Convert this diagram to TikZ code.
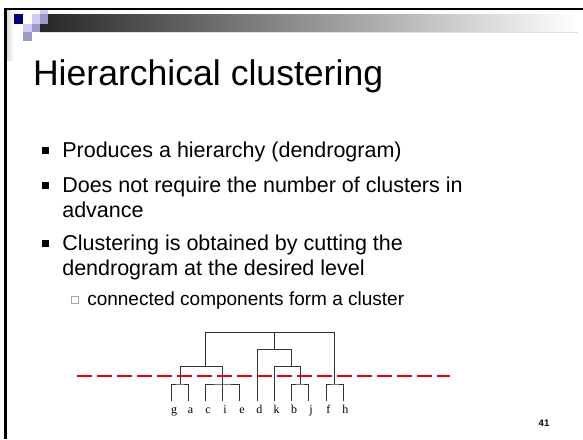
\documentclass[tikz,border=0pt]{standalone}
\usepackage{fontspec}
\setmainfont{Liberation Sans}
\newfontfamily\leaffont{Liberation Serif}
\usetikzlibrary{calc}
\definecolor{navy}{HTML}{000080}
\definecolor{lav}{HTML}{CCCCEE}
\definecolor{lavmid}{HTML}{9999CC}
\definecolor{cutred}{HTML}{F00000}
\begin{document}
\begin{tikzpicture}[x=1pt,y=-1pt,
  txt/.style={anchor=base west, inner sep=0pt, outer sep=0pt},
  titletext/.style={txt, font=\fontsize{35.6}{40}\selectfont},
  lvlone/.style={txt, font=\fontsize{21.5}{25}\selectfont},
  lvltwo/.style={txt, font=\fontsize{19}{22}\selectfont},
  bulletone/.style={fill=black, draw=none, minimum size=7pt, inner sep=0pt},
  bullettwo/.style={draw=gray!70, line width=0.6pt, fill=white, minimum size=7pt, inner sep=0pt},
  tree/.style={draw=black!80, line width=0.9pt},
  leaf/.style={anchor=base, inner sep=0pt, font=\leaffont\fontsize{12}{14}\selectfont},
  cutline/.style={draw=cutred, line width=1.7pt, dash pattern=on 15pt off 5pt},
]
\useasboundingbox (0,0) rectangle (583,439);
\fill[white] (0,0) rectangle (583,439);
% header decoration
\shade[left color=gray!30, right color=white] (6.5,10.3) rectangle (14,60);
\shade[left color=black!85, right color=white] (40,14.3) rectangle (578,32.3);
\fill[gray!25] (40,32.3) rectangle (578,33.3);
\fill[lav] (40,10.3) rectangle (48.3,14.3);
\fill[navy] (13.5,14.3) rectangle (22.6,24);
\fill[lav] (31.7,14.3) rectangle (40,24);
\fill[lavmid] (40,14.3) rectangle (48.3,24);
\fill[lav] (22.6,24) rectangle (31.7,32.3);
\fill[lavmid] (31.7,24) rectangle (40,32.3);
\fill[lavmid] (22.6,32.3) rectangle (31.7,40.6);
\fill[black] (4.3,8) rectangle (583,10.3);
\fill[black] (4.3,8) rectangle (6.5,439);
% title
\node[titletext] (title) at (33,85) {Hierarchical clustering};
% bullets
\node[bulletone] (b1) at (45,150) {};
\node[lvlone] (t1) at (62.3,157) {Produces a hierarchy (dendrogram)};
\node[bulletone] (b2) at (45,185) {};
\node[lvlone] (t2a) at (62.3,192) {Does not require the number of clusters in};
\node[lvlone] (t2b) at (62.3,217) {advance};
\node[bulletone] (b3) at (45,243) {};
\node[lvlone] (t3a) at (62.3,250) {Clustering is obtained by cutting the};
\node[lvlone] (t3b) at (62.3,275.5) {dendrogram at the desired level};
\node[bullettwo] (s1) at (74.5,300) {};
\node[lvltwo] (t4) at (87.3,305) {connected components form a cluster};
% dendrogram leaves
\coordinate (g) at (171.7,401);
\coordinate (a) at (188.3,401);
\coordinate (c) at (205.7,401);
\coordinate (i) at (222.7,401);
\coordinate (e) at (239.7,401);
\coordinate (d) at (257,401);
\coordinate (k) at (274.3,401);
\coordinate (b) at (291.7,401);
\coordinate (j) at (308.7,401);
\coordinate (f) at (326,401);
\coordinate (h) at (343,401);
% junctions
\coordinate (ga) at (180,384);
\coordinate (cie) at (222.7,384);
\coordinate (gacie) at (205.3,366.7);
\coordinate (bj) at (300.3,384);
\coordinate (kbj) at (291.7,366.7);
\coordinate (dkbj) at (274.3,349.5);
\coordinate (fh) at (334.3,384);
\coordinate (root) at (270,332.3);
% tree lines
\draw[tree] (g) |- (ga) -| (a);
\draw[tree] (ga) |- (cie |- gacie);
\draw[tree] (c) |- (cie) -| (e);
\draw[tree] (i) -- (i |- gacie);
\draw[tree] (gacie) -- (gacie |- root) -- (fh |- root) -- (fh);
\draw[tree] (f) |- (fh) -| (h);
\draw[tree] (b) |- (bj) -| (j);
\draw[tree] (bj) -- (bj |- kbj) -- (k |- kbj) -- (k);
\draw[tree] (kbj) -- (kbj |- dkbj);
\draw[tree] (d) |- (kbj |- dkbj);
\draw[tree] (dkbj) -- (dkbj |- root);
% leaf labels
\foreach \n in {g,a,c,i,e,d,k,b,j,f,h}{
  \node[leaf] (l\n) at ($(\n)+(2.3,12.5)$) {\n};
}
% cut line
\coordinate (cutL) at (77.3,376);
\coordinate (cutR) at (449.7,376);
\draw[cutline] (cutL) -- (cutR);
% page number
\node[font=\bfseries\fontsize{9.5}{11}\selectfont, inner sep=0pt] (pg) at (544,423.5) {41};
\end{tikzpicture}
\end{document}
